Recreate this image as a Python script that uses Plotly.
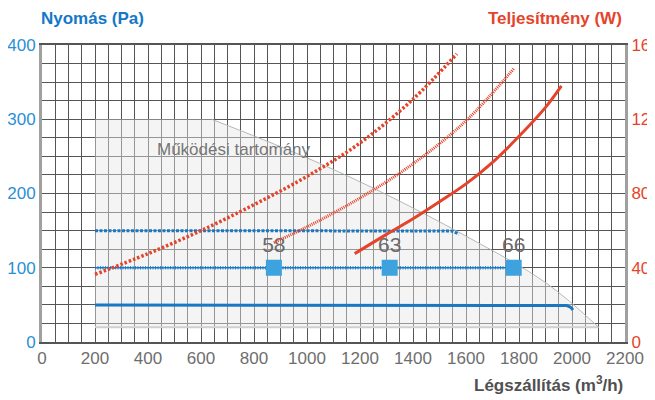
import plotly.graph_objects as go

# ---- data ----
# power curves (W, right axis)
x_pow_a = [200, 400, 600, 800, 1000, 1200, 1400, 1565]
w_pow_a = [36.4, 47.6, 60, 74, 89.2, 107.2, 130.8, 155.2]
x_pow_b = [875, 1000, 1200, 1400, 1600, 1780]
w_pow_b = [53.6, 62, 77.6, 96, 119.2, 147.2]
x_pow_c = [1180, 1300, 1400, 1500, 1600, 1700, 1800, 1900, 1960]
w_pow_c = [47.6, 58, 66.4, 75.6, 85.2, 96.8, 110.8, 126.4, 138]

# pressure curves (Pa, left axis)
x_pr_150 = [200, 1530, 1545, 1558, 1567, 1573]
pa_pr_150 = [150, 150, 149.5, 148, 146.5, 145]
x_pr_100 = [200, 1780]
pa_pr_100 = [100, 100]
x_pr_50 = [200, 1950, 1965, 1980, 1992, 1999, 2003]
pa_pr_50 = [50, 50, 49.8, 49, 47.5, 45.5, 43]

# operating range
x_range_area = [200, 200, 640, 974, 1263, 1603, 1904, 2100, 200]
pa_range_area = [20, 300, 300, 252, 205, 142, 79, 20, 20]
x_range_edge = [640, 974, 1263, 1603, 1904, 2100]
pa_range_edge = [300, 252, 205, 142, 79, 20]
x_range_bottom = [200, 2100]
pa_range_bottom = [20, 20]

# operating points
x_points = [875, 1312, 1780]
pa_points = [100, 100, 100]
point_labels = ["58", "63", "66"]

x_ticks = list(range(0, 2201, 200))

FONT = "Liberation Sans, Arial, sans-serif"
RED = "#e5442a"
BLUE = "#1a78c2"
MARK = "#3da2de"
GRID = "#555555"

fig = go.Figure()

fig.add_trace(go.Scatter(x=x_range_area, y=pa_range_area, fill="toself",
                         fillcolor="rgba(231,231,231,0.45)", line=dict(width=0),
                         mode="lines", hoverinfo="skip", showlegend=False))
fig.add_trace(go.Scatter(x=x_range_bottom, y=pa_range_bottom, mode="lines",
                         line=dict(color="#d0d0d0", width=2), showlegend=False))
fig.add_trace(go.Scatter(x=x_range_edge, y=pa_range_edge, mode="lines",
                         line=dict(color="#b5b5b5", width=1, shape="spline"), showlegend=False))

# pressure lines
fig.add_trace(go.Scatter(x=x_pr_150, y=pa_pr_150, mode="lines",
                         line=dict(color=BLUE, width=3, dash="3px,1.5px"), showlegend=False))
fig.add_trace(go.Scatter(x=x_pr_100, y=pa_pr_100, mode="lines",
                         line=dict(color="#3a8fd0", width=3.5, dash="1px,1.5px"), showlegend=False))
fig.add_trace(go.Scatter(x=x_pr_100, y=pa_pr_100, mode="lines",
                         line=dict(color=BLUE, width=1.5), showlegend=False))
fig.add_trace(go.Scatter(x=x_pr_50, y=pa_pr_50, mode="lines",
                         line=dict(color=BLUE, width=3), showlegend=False))

# power lines on right axis
fig.add_trace(go.Scatter(x=x_pow_a, y=w_pow_a, yaxis="y2", mode="lines",
                         line=dict(color=RED, width=3.5, dash="2.5px,2px", shape="spline"), showlegend=False))
fig.add_trace(go.Scatter(x=x_pow_b, y=w_pow_b, yaxis="y2", mode="lines",
                         line=dict(color=RED, width=3, dash="1px,1px", shape="spline"), showlegend=False))
fig.add_trace(go.Scatter(x=x_pow_c, y=w_pow_c, yaxis="y2", mode="lines",
                         line=dict(color=RED, width=3, shape="spline"), showlegend=False))

# operating points
fig.add_trace(go.Scatter(x=x_points, y=pa_points, mode="markers+text", text=point_labels,
                         textposition="top center",
                         textfont=dict(family=FONT, size=21, color="#6a6a6a"),
                         marker=dict(symbol="square", size=16, color=MARK),
                         showlegend=False))

# page body has an 8px margin: compensate so the plot area sits at x 42..625, y 45..342
fig.update_layout(
    width=655, height=400,
    margin=dict(l=34, r=38, t=37, b=66, autoexpand=False),
    paper_bgcolor="white", plot_bgcolor="white",
    font=dict(family=FONT),
    xaxis=dict(range=[0, 2200], tickvals=x_ticks, showgrid=True, gridcolor=GRID, gridwidth=1,
               minor=dict(dtick=50, showgrid=True, gridcolor=GRID, gridwidth=1),
               showline=True, linecolor=GRID, linewidth=1.5, mirror=True, zeroline=False,
               automargin=False,
               ticks="", tickfont=dict(family=FONT, size=17, color="#6e6e6e")),
    yaxis=dict(range=[0, 400], dtick=100, showgrid=True, gridcolor=GRID, gridwidth=1,
               minor=dict(dtick=25, showgrid=True, gridcolor=GRID, gridwidth=1),
               showline=True, linecolor="#a0a0a0", linewidth=3, zeroline=False,
               automargin=False,
               ticks="", tickfont=dict(family=FONT, size=17, color="#2b8fd6")),
    yaxis2=dict(range=[0, 160], dtick=40, overlaying="y", side="right", showgrid=False,
                showline=True, linecolor="#a0a0a0", linewidth=3, zeroline=False,
                automargin=False,
                ticks="", tickfont=dict(family=FONT, size=17, color=RED)),
    annotations=[
        dict(text="Nyomás (Pa)", xref="paper", yref="paper", x=0, y=1.089, xanchor="left",
             yanchor="middle", xshift=-3, showarrow=False,
             font=dict(family=FONT, size=17, color="#1478c8", weight="bold")),
        dict(text="Teljesítmény (W)", xref="paper", yref="paper", x=0.998, y=1.089, xanchor="right",
             yanchor="middle", showarrow=False,
             font=dict(family=FONT, size=17, color=RED, weight="bold")),
        dict(text="Légszállítás (m<sup>3</sup>/h)", xref="paper", yref="paper", x=1.0, y=-0.14,
             xanchor="right", yanchor="middle", showarrow=False,
             font=dict(family=FONT, size=17, color="#505050", weight="bold")),
        dict(text="Működési tartomány", xref="x", yref="y", x=426, y=259, xanchor="left",
             yanchor="middle", showarrow=False,
             font=dict(family=FONT, size=17, color="#777777")),
    ],
)

fig.write_html("out.html")
